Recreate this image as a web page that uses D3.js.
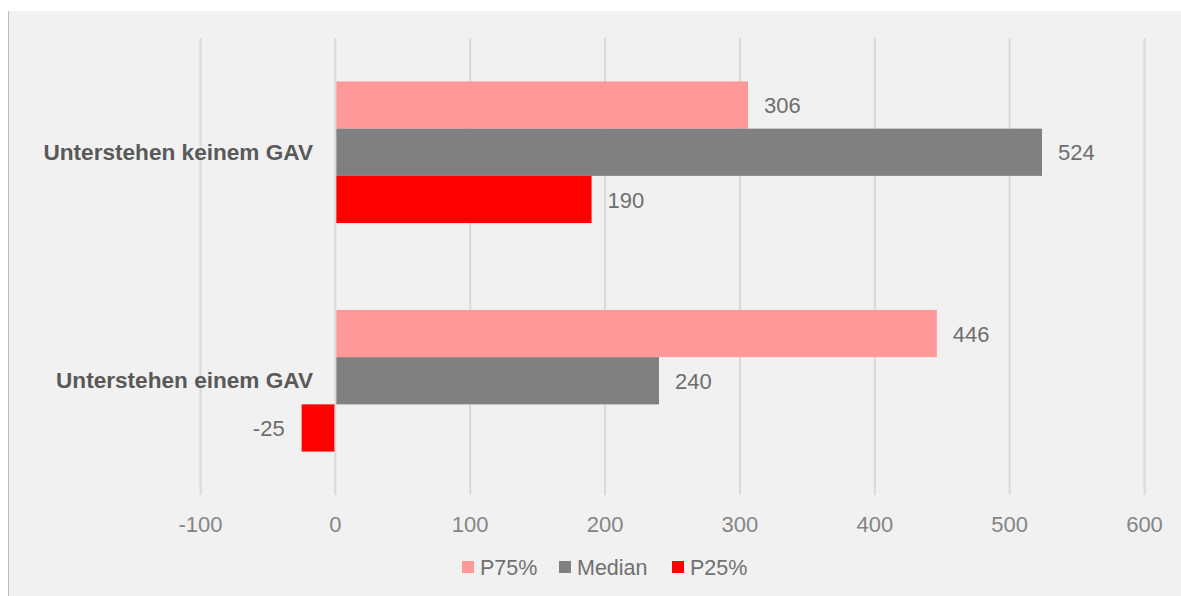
<!DOCTYPE html>
<html>
<head>
<meta charset="utf-8">
<script src="https://cdn.jsdelivr.net/npm/d3@7"></script>
<style>
  body { margin: 0; background: #fff; }
  text { font-family: "Liberation Sans", Arial, sans-serif; }
</style>
</head>
<body>
<svg width="1181" height="596"></svg>
<script>
const categories = ["Unterstehen keinem GAV", "Unterstehen einem GAV"];
const seriesNames = ["P75%", "Median", "P25%"];
const p75 = [306, 446];
const median = [524, 240];
const p25 = [190, -25];
const ticks = [-100, 0, 100, 200, 300, 400, 500, 600];
const colors = ["#ff9999", "#808080", "#ff0000"];

const svg = d3.select("svg");

// panel
svg.append("rect").attr("x", 8).attr("y", 11).attr("width", 1173).attr("height", 585).attr("fill", "#f1f1f1");
svg.append("line").attr("x1", 8.5).attr("x2", 8.5).attr("y1", 11).attr("y2", 596)
  .attr("stroke", "#bdbdbd");

const x = d3.scaleLinear().domain([-100, 600]).range([200.5, 1144.5]);
const y = d3.scaleBand().domain(categories).range([38, 495]).paddingInner(0.38).paddingOuter(0.19);
const sub = d3.scaleBand().domain(seriesNames).range([0, y.bandwidth()]);

// grid
svg.append("g").selectAll("line").data(ticks).join("line")
  .attr("x1", d => x(d)).attr("x2", d => x(d))
  .attr("y1", 38).attr("y2", 495)
  .attr("stroke", "#d9d9d9").attr("stroke-width", 2);

// tick labels
svg.append("g").selectAll("text").data(ticks).join("text")
  .attr("x", d => x(d)).attr("y", 532)
  .attr("text-anchor", "middle")
  .attr("font-size", 22).attr("fill", "#858585")
  .text(d => d);

const rows = [];
categories.forEach((c, i) => {
  [p75, median, p25].forEach((arr, j) => {
    rows.push({ cat: c, s: seriesNames[j], v: arr[i], color: colors[j] });
  });
});

svg.append("g").selectAll("rect").data(rows).join("rect")
  .attr("x", d => x(Math.min(0, d.v)) + (d.v < 0 ? 0 : 1))
  .attr("y", d => y(d.cat) + sub(d.s))
  .attr("width", d => Math.abs(x(d.v) - x(0)) - 1)
  .attr("height", sub.bandwidth())
  .attr("fill", d => d.color);

svg.append("g").selectAll("text").data(rows).join("text")
  .attr("x", d => d.v < 0 ? x(d.v) - 17 : x(d.v) + 16)
  .attr("y", d => y(d.cat) + sub(d.s) + sub.bandwidth() / 2)
  .attr("dy", "0.37em")
  .attr("text-anchor", d => d.v < 0 ? "end" : "start")
  .attr("font-size", 22).attr("fill", "#6e6e6e")
  .text(d => d.v);

// category labels
svg.append("g").selectAll("text").data(categories).join("text")
  .attr("x", 313)
  .attr("y", d => y(d) + y.bandwidth() / 2)
  .attr("dy", "0.33em")
  .attr("text-anchor", "end")
  .attr("font-size", 22.6).attr("font-weight", "bold").attr("fill", "#595959")
  .text(d => d);

// legend
const legX = [462, 559, 672];
const leg = svg.append("g").selectAll("g").data(seriesNames).join("g")
  .attr("transform", (d, i) => `translate(${legX[i]},567)`);
leg.append("rect").attr("x", 0).attr("y", -6).attr("width", 12).attr("height", 12)
  .attr("fill", (d, i) => colors[i]);
leg.append("text").attr("x", 18).attr("dy", "0.36em")
  .attr("font-size", 21.5).attr("fill", "#707070")
  .text(d => d);
</script>
</body>
</html>
